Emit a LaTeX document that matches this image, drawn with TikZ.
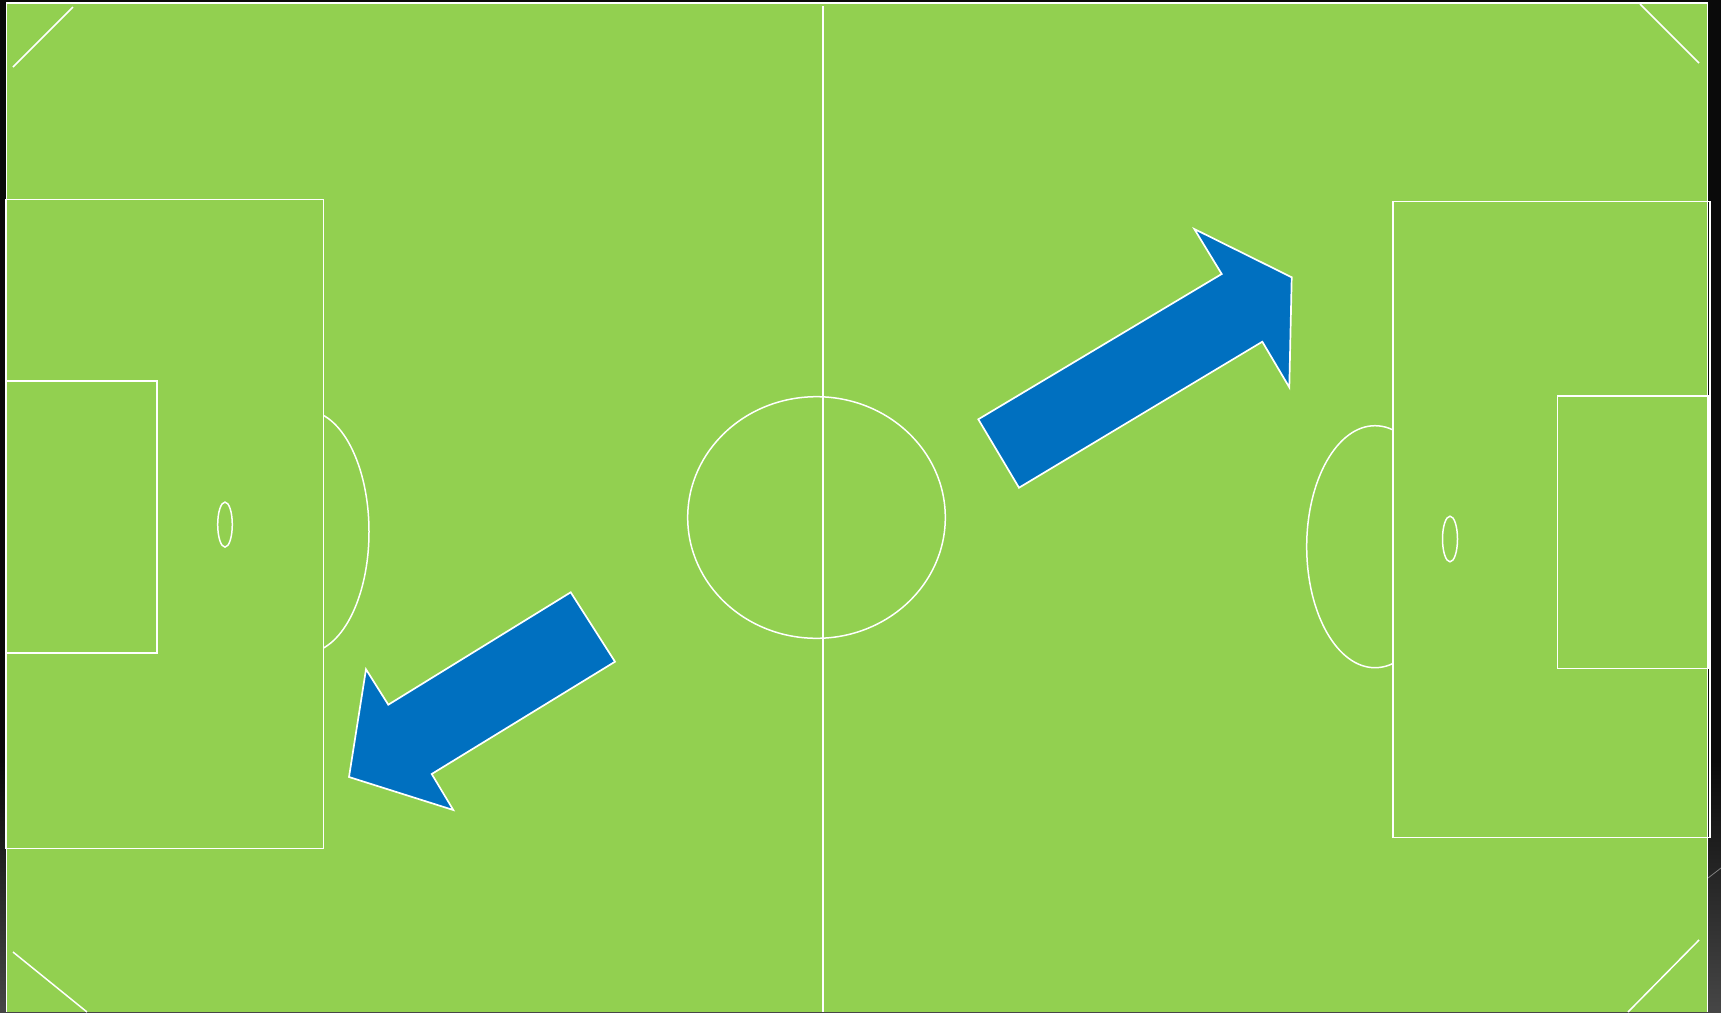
\documentclass[tikz,border=0pt]{standalone}
\usetikzlibrary{calc}
\definecolor{pitch}{RGB}{146,208,80}
\definecolor{arrowblue}{RGB}{0,112,192}
\definecolor{bgdark}{RGB}{10,10,10}
\definecolor{bggray}{RGB}{70,70,70}
\begin{document}
\begin{tikzpicture}[x=1pt,y=-1pt,
  pline/.style={draw=white,line width=1.5pt},
  bigarrow/.style={fill=arrowblue,draw=white,line width=1.7pt,line join=miter}]
\useasboundingbox (0,0) rectangle (1721,1012);
% background
\fill[bgdark] (0,0) rectangle (1721,1012);
\shade[top color=bgdark,bottom color=bggray] (0,760) rectangle (1721,1012);
\draw[gray,line width=0.8pt] (1708,878) -- (1721,868);
% pitch
\fill[pitch] (6.5,3) rectangle (1708,1012);
\draw[pline] (6.5,1012) -- (6.5,3) -- (1707.5,3) -- (1707.5,1012);
% halfway line
\draw[pline] (823,6) -- (823,1012);
% centre circle
\draw[pline] (816.5,517.5) ellipse [x radius=128.8, y radius=120.8];
% left penalty area
\draw[pline] (6,199.5) rectangle (323.5,848.5);
\draw[pline] (6,381) rectangle (157,653);
\draw[pline] (225,524.6) ellipse [x radius=7.3, y radius=22.5];
\begin{scope}
  \clip (324,300) rectangle (450,760);
  \draw[pline] (306,531.7) ellipse [x radius=63, y radius=121];
\end{scope}
% right penalty area
\draw[pline] (1392.8,201.7) rectangle (1710,837.5);
\draw[pline] (1557.5,396.2) rectangle (1709,668.4);
\draw[pline] (1450,539) ellipse [x radius=7.5, y radius=22.8];
\begin{scope}
  \clip (1250,300) rectangle (1392.3,780);
  \draw[pline] (1375,546.7) ellipse [x radius=68.3, y radius=121];
\end{scope}
% corner marks
\draw[pline] (13,67) -- (73,7);
\draw[pline] (1640,4) -- (1699,63);
\draw[pline] (13,952) -- (87,1012);
\draw[pline] (1699,940) -- (1628,1012);
% arrows
\draw[bigarrow] (570.7,592.3) -- (615,661.7) -- (431.7,774) -- (453.3,810)
  -- (349,777) -- (366,669.3) -- (388.3,704.7) -- cycle;
\draw[bigarrow] (978.3,419.3) -- (1221.7,274) -- (1194.3,229) -- (1291.7,277.3)
  -- (1289.3,387.3) -- (1262.3,341.7) -- (1019,487.7) -- cycle;
\end{tikzpicture}
\end{document}
